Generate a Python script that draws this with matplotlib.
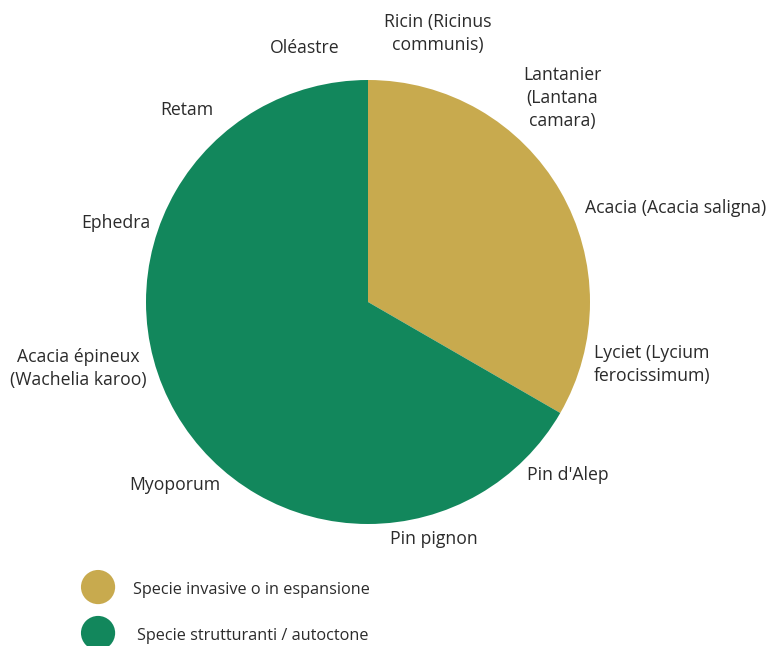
import numpy as np
import matplotlib.pyplot as plt
from matplotlib.patches import Circle

plt.rcParams['font.family'] = ['Open Sans', 'DejaVu Sans']

# species, clockwise from 12 o'clock (one slot has no label)
species = ['Ricin (Ricinus\ncommunis)', 'Lantanier\n(Lantana\ncamara)',
           'Acacia (Acacia saligna)', 'Lyciet (Lycium\nferocissimum)',
           "Pin d'Alep", 'Pin pignon', '', 'Myoporum',
           'Acacia épineux\n(Wachelia karoo)', 'Ephedra', 'Retam', 'Oléastre']
group_names = ['Specie invasive o in espansione', 'Specie strutturanti / autoctone']
group_counts = [4, 8]
colors = ['#C8AA4E', '#12875C']

# label placement tweaks (radius multiple, angle nudge in degrees)
label_dist = [1.25, 1.27, 1.45, 1.31, 1.19, 1.11, 1.2, 1.2, 1.34, 1.19, 1.19, 1.18]
label_nudge = [-0.5, -1.4, -2, -2.5, -4, -0.5, 0, 1.5, 2, 2.5, 1.7, 1]
legend_text_dx = [0, 0.018]

fig = plt.figure(figsize=(7.67, 6.46), dpi=100)
ax = fig.add_axes([0, 0, 1, 1])

ax.pie(group_counts, colors=colors, startangle=90, counterclock=False,
       radius=1, wedgeprops=dict(linewidth=0))

n = len(species)
step = 360 / n
for i, name in enumerate(species):
    if not name:
        continue
    a = np.deg2rad(i * step + step / 2 + label_nudge[i])
    d = label_dist[i]
    ax.text(d * np.sin(a), d * np.cos(a), name, ha='center', va='center',
            fontsize=12.7, color='#2b2b2b', linespacing=1.35)

# legend
for k, (g, c) in enumerate(zip(group_names, colors)):
    y = -1.284 - k * 0.207
    ax.add_patch(Circle((-1.216, y), 0.077, color=c, lw=0))
    ax.text(-1.059 + legend_text_dx[k], y - 0.012, g, ha='left', va='center',
            fontsize=11.7, color='#2b2b2b')

ax.set_xlim(-368 / 222, 399 / 222)
ax.set_ylim(-344 / 222, 302 / 222)
ax.set_aspect('auto')
ax.axis('off')

fig.savefig('out.png', dpi=100)
